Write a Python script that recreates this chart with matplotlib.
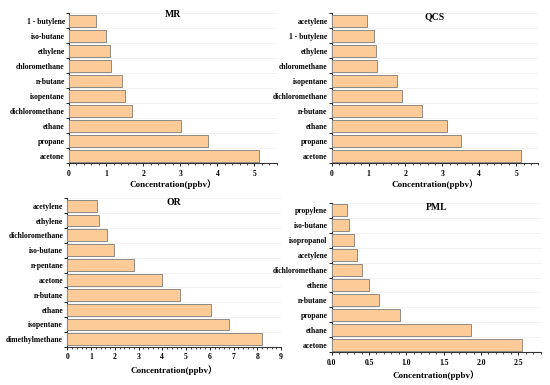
import numpy as np
import matplotlib
matplotlib.use("Agg")
import matplotlib.pyplot as plt
from matplotlib.ticker import MultipleLocator

# 数据（从下到上）
mr_names = ["acetone", "propane", "ethane", "dichloromethane", "isopentane",
            "n-butane", "chloromethane", "ethylene", "iso-butane", "1 - butylene"]
mr_vals = [5.11, 3.76, 3.01, 1.69, 1.51, 1.43, 1.12, 1.10, 0.99, 0.72]

qcs_names = ["acetone", "propane", "ethane", "n-butane", "dichloromethane",
             "isopentane", "chloromethane", "ethylene", "1 - butylene", "acetylene"]
qcs_vals = [5.14, 3.50, 3.13, 2.45, 1.91, 1.78, 1.22, 1.21, 1.15, 0.95]

or_names = ["dimethylmethane", "isopentane", "ethane", "n-butane", "acetone",
            "n-pentane", "iso-butane", "dichloromethane", "ethylene", "acetylene"]
or_vals = [8.22, 6.79, 6.04, 4.75, 3.99, 2.80, 1.97, 1.67, 1.33, 1.26]

pml_names = ["acetone", "ethane", "propane", "n-butane", "ethene",
             "dichloromethane", "acetylene", "isopropanol", "iso-butane", "propylene"]
pml_vals = [2.55, 1.87, 0.91, 0.64, 0.50, 0.41, 0.345, 0.305, 0.23, 0.21]

W, H = 550, 385
fig = plt.figure(figsize=(5.5, 3.85), dpi=100)

serif = ["Liberation Serif", "DejaVu Serif"]
xlab_font = ["Liberation Serif", "Noto Sans CJK SC"]


def panel(px_box, names, vals, title, xmax, major, minor, fmt, title_y, lpad):
    left, right, top, bottom = px_box
    ax = fig.add_axes([left / W, 1 - bottom / H, (right - left) / W, (bottom - top) / H])
    y = np.arange(len(names))
    ax.barh(y, vals, height=0.8, color="#FDCB97", edgecolor="#8f8a82", linewidth=0.7, zorder=3)
    ax.set_xlim(0, xmax)
    ax.set_ylim(-0.5, len(names) - 0.5)
    ax.set_yticks(y)
    ax.set_yticklabels(names, fontfamily=serif, fontweight="bold", fontsize=5.5)
    ax.yaxis.set_minor_locator(MultipleLocator(1, offset=0.5))
    ax.xaxis.set_minor_locator(MultipleLocator(minor))
    ticks = np.arange(0, xmax + 1e-9, major)
    ax.set_xticks(ticks)
    ax.set_xticklabels([fmt.format(t) for t in ticks], fontfamily=serif,
                       fontweight="bold", fontsize=5.5)
    ax.tick_params(axis="y", which="major", length=0, pad=3)
    ax.tick_params(axis="y", which="minor", length=2, width=0.6, direction="out")
    ax.tick_params(axis="x", which="major", length=2.5, width=0.6, direction="out", pad=2)
    ax.tick_params(axis="x", which="minor", length=1.3, width=0.5, direction="out")
    ax.grid(True, which="minor", axis="y", color="#eeeeee", linewidth=0.5, zorder=0)
    for s in ["top", "right"]:
        ax.spines[s].set_visible(False)
    for s in ["left", "bottom"]:
        ax.spines[s].set_linewidth(0.8)
        ax.spines[s].set_color("#333333")
    ax.set_xlabel("Concentration(ppbv）", fontfamily=xlab_font, fontweight="bold",
                  fontsize=6.5, labelpad=lpad)
    ax.text(0.5, title_y, title, transform=ax.transAxes, ha="center", va="center",
            fontfamily=serif, fontweight="bold", fontsize=7)
    return ax


panel((69, 276.7, 13.3, 163.3), mr_names, mr_vals, "MR", 5.6, 1, 0.2, "{:.0f}", 0.99, 1.5)
panel((331.7, 538.3, 13.3, 163.3), qcs_names, qcs_vals, "QCS", 5.6, 1, 0.2, "{:.0f}", 0.98, 1.5)
panel((67.3, 281, 198.3, 346.7), or_names, or_vals, "OR", 9, 1, 0.2, "{:.0f}", 0.973, 3)
panel((331.7, 540.7, 202.7, 352.3), pml_names, pml_vals, "PML", 2.8, 0.5, 0.1, "{:.1f}", 0.966, 3)

fig.savefig("out.png", dpi=100)
